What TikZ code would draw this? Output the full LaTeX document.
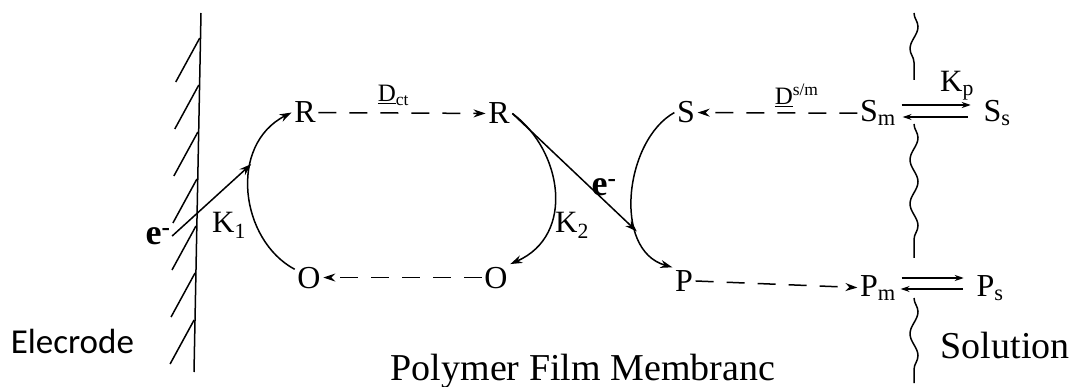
\documentclass[tikz,border=0pt]{standalone}
\usepackage{fontspec}
\setmainfont{Liberation Serif}
\newfontfamily\elecfont{Carlito}
\usetikzlibrary{arrows.meta,decorations.pathmorphing}

\begin{document}
\begin{tikzpicture}[x=1pt, y=-1pt, >={Stealth[length=12pt,width=8pt]}, line width=1.5pt,
    spec/.style={anchor=base, inner sep=2pt, font=\fontsize{32}{34}\selectfont},
    rate/.style={anchor=base, inner sep=1pt, font=\fontsize{31}{33}\selectfont},
    elec/.style={inner sep=1pt, font=\bfseries\fontsize{36}{38}\selectfont},
    diff/.style={anchor=base west, inner sep=1pt, font=\fontsize{25}{27}\selectfont},
    big/.style={anchor=base west, inner sep=0pt, font=\fontsize{38}{40}\selectfont},
    flux/.style={->, dash pattern=on 18pt off 13pt},
    eq/.style={->, >={Stealth[length=9pt,width=6pt]}},
    wall/.style={decorate, decoration={snake, segment length=44pt, amplitude=4pt}}]
    \useasboundingbox (0,0) rectangle (1073,387);
    % electrode with its hatching
    \draw (201,13) -- (194,372);
    \foreach \y in {38,85,132,179,226,273,320}
        \draw ({200.5-0.02*\y},\y) -- ++(-24,44);
    \node[anchor=base west, inner sep=0pt, font=\elecfont\fontsize{35}{38}\selectfont] (electrode) at (10,353) {Elecrode};
    % species in the film
    \node[spec] (R1) at (305,123) {R};
    \node[spec] (R2) at (499,124) {R};
    \node[spec] (O1) at (309,288) {O};
    \node[spec] (O2) at (496,288) {O};
    \node[spec] (S) at (686,123) {S};
    \node[spec] (P) at (684,291) {P};
    % film / solution boundary
    \draw[wall] (914,13) -- (914,80);
    \draw[wall] (914,124) -- (914,258);
    \draw[wall] (914,298) -- (914,383);
    \node[spec] (Sm) at (878,122) {S\textsubscript{m}};
    \node[spec] (Ss) at (997,122) {S\textsubscript{s}};
    \node[spec] (Pm) at (878,297) {P\textsubscript{m}};
    \node[spec] (Ps) at (990,297) {P\textsubscript{s}};
    % first cycle at the electrode
    \draw[->] (O1.150) .. controls (240,240) and (228,145) .. (R1.west) coordinate[pos=0.65] (j1);
    \node[elec] (e1) at (158,236) {e\textsuperscript{-}};
    \draw[->] (e1.east) -- (j1);
    \node[rate] (K1) at (229,233) {K\textsubscript{1}};
    % second cycle with the substrate
    \draw[->] (R2.east) .. controls (562,150) and (576,235) .. (O2.north east);
    \node[rate] (K2) at (572,233) {K\textsubscript{2}};
    \draw[->] (S.west) .. controls (625,140) and (612,250) .. (P.north west) coordinate[pos=0.7] (j2);
    \draw[->] (R2.east) -- (j2);
    \node[elec] (e2) at (604,187) {e\textsuperscript{-}};
    % diffusion in the film
    \draw[flux] (R1) -- (R2);
    \draw[flux] (O2) -- (O1);
    \draw[flux] (Sm) -- (S);
    \draw[flux] (P) -- (Pm);
    \node[diff] (Dct) at (376,102) {\underline{D}\textsubscript{ct}};
    \node[diff] (Dsm) at (773,105) {\underline{D}\textsuperscript{s/m}};
    % partition at the boundary
    \draw[eq, shorten <=3pt, shorten >=10pt] ([yshift=17pt]Sm.base east) -- ([yshift=17pt]Ss.base west);
    \draw[eq, shorten <=13pt, shorten >=4pt] ([yshift=5pt]Ss.base west) -- ([yshift=5pt]Sm.base east);
    \draw[eq, shorten <=3pt, shorten >=10pt] ([yshift=19pt]Pm.base east) -- ([yshift=19pt]Ps.base west);
    \draw[eq, shorten <=11pt, shorten >=2pt] ([yshift=8pt]Ps.base west) -- ([yshift=8pt]Pm.base east);
    \node[rate] (Kp) at (957,92) {K\textsubscript{p}};
    % region labels
    \node[big] (film) at (390,380) {Polymer Film Membranc};
    \node[big] (solution) at (940,358) {Solution};
\end{tikzpicture}
\end{document}
